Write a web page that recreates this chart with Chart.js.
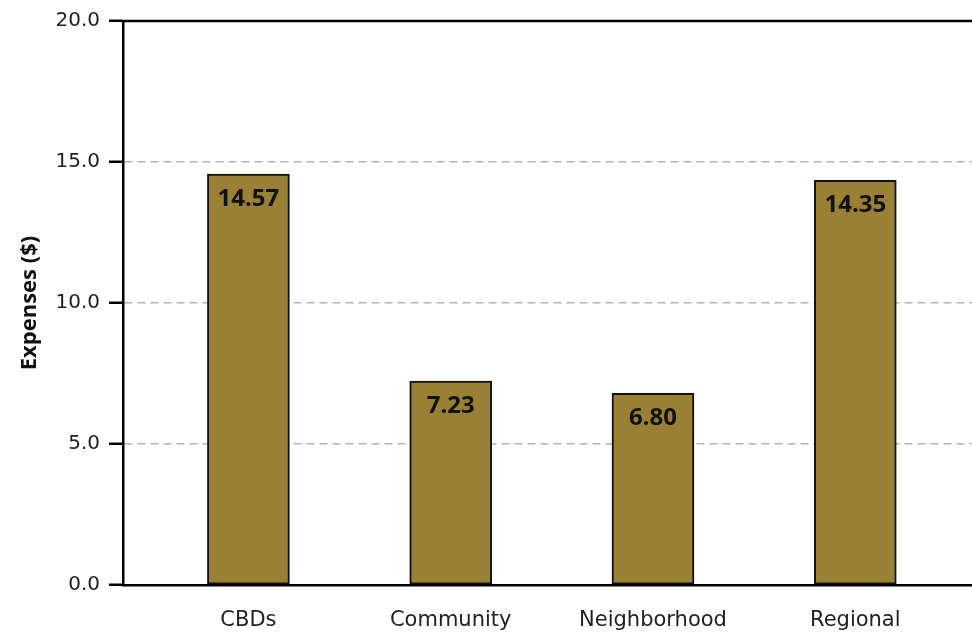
<!DOCTYPE html>
<html>
<head>
<meta charset="utf-8">
<script src="https://cdn.jsdelivr.net/npm/chart.js@4"></script>
<style>
  html, body { margin: 0; padding: 0; background: #fff; }
  #wrap { width: 972px; height: 633px; }
</style>
</head>
<body>
<div id="wrap"><canvas id="expChart" width="972" height="633"></canvas></div>
<script>
var categories = ['CBDs', 'Community', 'Neighborhood', 'Regional'];
var expenses = [14.57, 7.23, 6.80, 14.35];
var yTicks = [0, 5, 10, 15, 20];

var barColor = '#998034';

// value labels sit just inside the top of each bar
var valueLabels = {
    id: 'valueLabels',
    afterDatasetsDraw: function (chart) {
        var ctx = chart.ctx;
        var meta = chart.getDatasetMeta(0);
        ctx.save();
        ctx.font = 'bold 24px "Noto Sans"';
        ctx.fillStyle = '#111';
        ctx.textAlign = 'center';
        ctx.textBaseline = 'middle';
        meta.data.forEach(function (bar, i) {
            ctx.fillText(expenses[i].toFixed(2), bar.x, bar.y + 25);
        });
        ctx.restore();
    }
};

// closing line along the top of the plot
var topSpine = {
    id: 'topSpine',
    afterDraw: function (chart) {
        var a = chart.chartArea;
        var ctx = chart.ctx;
        ctx.save();
        ctx.strokeStyle = '#000';
        ctx.lineWidth = 2.5;
        ctx.beginPath();
        ctx.moveTo(a.left - 1.25, a.top);
        ctx.lineTo(a.right, a.top);
        ctx.stroke();
        ctx.restore();
    }
};

var ctx = document.getElementById('expChart');
var expChart = new Chart(ctx, {
    type: 'bar',
    data: {
        datasets: [{
            label: 'Expenses ($)',
            data: expenses.map(function (v, i) { return { x: i, y: v }; }),
            backgroundColor: barColor,
            borderColor: '#111',
            borderWidth: 2,
            borderSkipped: false,
            barThickness: 82
        }]
    },
    options: {
        responsive: false,
        animation: false,
        layout: { padding: { top: 19, right: 0, left: 0, bottom: 0 } },
        plugins: {
            legend: { display: false },
            tooltip: { enabled: false }
        },
        scales: {
            x: {
                type: 'linear',
                offset: false,
                min: -0.62,
                max: 3.577,
                afterBuildTicks: function (scale) {
                    scale.ticks = categories.map(function (c, i) { return { value: i }; });
                },
                afterFit: function (scale) { scale.height = 48; },
                grid: { display: false, drawTicks: false },
                border: { display: true, color: '#000', width: 2.5 },
                ticks: {
                    color: '#222',
                    font: { family: 'DejaVu Sans', size: 21 },
                    padding: 23,
                    maxRotation: 0,
                    callback: function (v) { return categories[v]; }
                }
            },
            y: {
                min: 0,
                max: 20,
                afterBuildTicks: function (scale) {
                    scale.ticks = yTicks.map(function (v) { return { value: v }; });
                },
                afterFit: function (scale) { scale.width = 123; },
                grid: {
                    color: function (c) {
                        var v = c.tick ? c.tick.value : 0;
                        return (v > 0 && v < 20) ? '#b4b4b4' : 'rgba(0,0,0,0)';
                    },
                    lineWidth: 1.5,
                    tickColor: '#000',
                    tickWidth: 2.5,
                    tickLength: 14,
                    tickBorderDash: []
                },
                border: { display: true, color: '#000', width: 2.5, dash: [8, 5] },
                ticks: {
                    color: '#222',
                    font: { family: 'DejaVu Sans', size: 20 },
                    padding: 9,
                    callback: function (v) { return v.toFixed(1); }
                },
                title: {
                    display: true,
                    text: 'Expenses ($)',
                    color: '#111',
                    font: { family: 'Open Sans', size: 22, weight: 'bold' },
                    padding: { top: 17, bottom: 0 }
                }
            }
        }
    },
    plugins: [valueLabels, topSpine]
});
</script>
</body>
</html>
